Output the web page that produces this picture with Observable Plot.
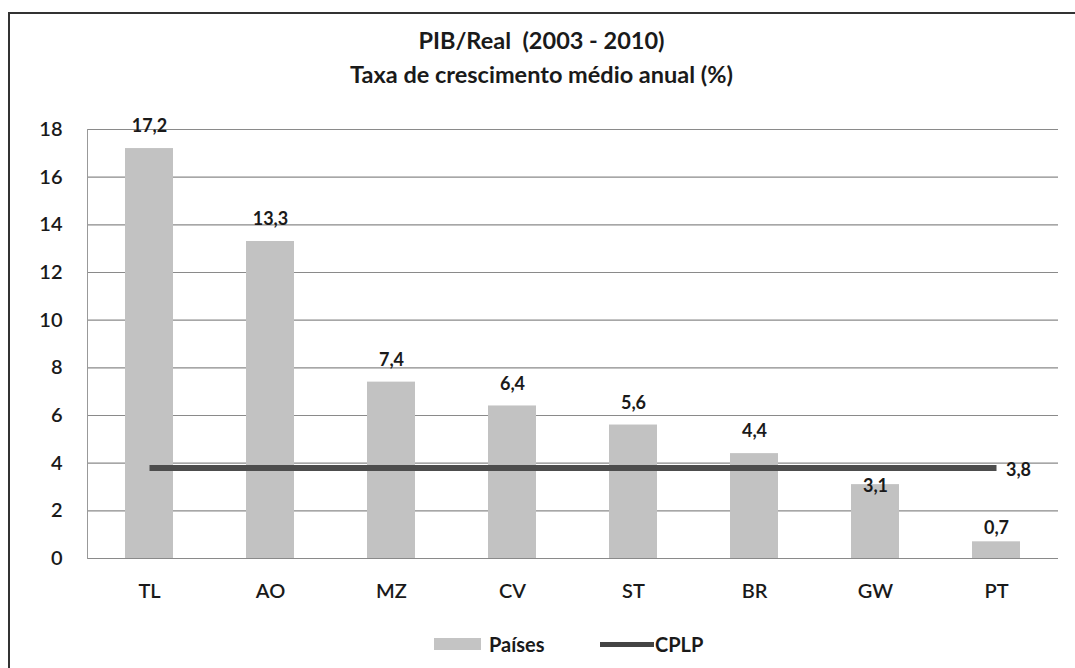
<!DOCTYPE html>
<html>
<head>
<meta charset="utf-8">
<script src="https://cdn.jsdelivr.net/npm/d3@7"></script>
<script src="https://cdn.jsdelivr.net/npm/@observablehq/plot@0.6"></script>
<style>
  html, body { margin: 0; padding: 0; background: #fff; }
  #wrap { position: relative; width: 1075px; height: 668px; overflow: hidden; font-family: Lato, "Open Sans", sans-serif; color: #1a1a1a; }
  #border { position: absolute; left: 8px; top: 12px; width: 1075px; height: 700px; border-left: 2px solid #333; border-top: 2px solid #333; box-sizing: border-box; }
  #title { position: absolute; left: 8px; width: 1067px; top: 23px; text-align: center; font-weight: bold; font-size: 23.5px; line-height: 34px; }
  #chart { position: absolute; left: 0; top: 100px; }
  #legend { position: absolute; top: 630px; left: 0; width: 1075px; height: 28px; font-weight: bold; font-size: 20px; }
  .item { position: absolute; top: 0; display: flex; align-items: center; height: 28px; }
</style>
</head>
<body>
<div id="wrap">
  <div id="border"></div>
  <div id="title">PIB/Real&nbsp; (2003 - 2010)<br>Taxa de crescimento médio anual (%)</div>
  <div id="chart"></div>
  <div id="legend">
    <div class="item" style="left:434px"><span style="display:inline-block;width:47px;height:12px;background:#c4c4c4;margin-right:8px"></span>Países</div>
    <div class="item" style="left:600px"><span style="display:inline-block;width:54px;height:5px;background:#444;margin-right:1px"></span>CPLP</div>
  </div>
</div>
<script>
const categories = ["TL", "AO", "MZ", "CV", "ST", "BR", "GW", "PT"];
const paises = [17.2, 13.3, 7.4, 6.4, 5.6, 4.4, 3.1, 0.7];
const cplp = [3.8, 3.8, 3.8, 3.8, 3.8, 3.8, 3.8, 3.8];
const yTicks = [0, 2, 4, 6, 8, 10, 12, 14, 16, 18];

const data = categories.map((c, i) => ({cat: c, value: paises[i], cplp: cplp[i]}));
const fmt = v => v.toFixed(1).replace(".", ",");
const last = data[data.length - 1];

const chart = Plot.plot({
  width: 1075,
  height: 510,
  marginLeft: 87,
  marginRight: 17,
  marginTop: 29,
  marginBottom: 52,
  style: {fontFamily: "Lato, 'Open Sans', sans-serif", color: "#1a1a1a", background: "transparent"},
  x: {domain: categories, paddingInner: 0.6, paddingOuter: 0.3, label: null},
  y: {domain: [0, 18], label: null},
  marks: [
    Plot.gridY(yTicks, {stroke: "#8a8a8a", strokeOpacity: 1, strokeWidth: 1.2}),
    Plot.frame({anchor: "left", stroke: "#999"}),
    Plot.axisY({ticks: yTicks, tickSize: 0, tickPadding: 25, fontSize: 20, fontWeight: 600, label: null}),
    Plot.axisX({tickSize: 0, tickPadding: 25, fontSize: 20, fontWeight: 600, label: null}),
    Plot.barY(data, {x: "cat", y: "value", fill: "#c2c2c2"}),
    Plot.line(data, {x: "cat", y: "cplp", stroke: "#4d4d4d", strokeWidth: 6, strokeLinecap: "butt"}),
    Plot.text(data.filter(d => d.cat !== "GW" && d.cat !== "PT"), {x: "cat", y: "value", text: d => fmt(d.value), dy: -22, fontSize: 18, fontWeight: "bold", fill: "#1a1a1a"}),
    Plot.text(data.filter(d => d.cat === "PT"), {x: "cat", y: "value", text: d => fmt(d.value), dy: -14, fontSize: 18, fontWeight: "bold", fill: "#1a1a1a"}),
    Plot.text(data.filter(d => d.cat === "GW"), {x: "cat", y: "value", text: d => fmt(d.value), dy: 2, fontSize: 18, fontWeight: "bold", fill: "#1a1a1a"}),
    Plot.text([last], {x: "cat", y: "cplp", text: d => fmt(d.cplp), dx: 22, dy: 2, fontSize: 18, fontWeight: "bold", fill: "#1a1a1a"})
  ]
});
document.getElementById("chart").appendChild(chart);
</script>
</body>
</html>
